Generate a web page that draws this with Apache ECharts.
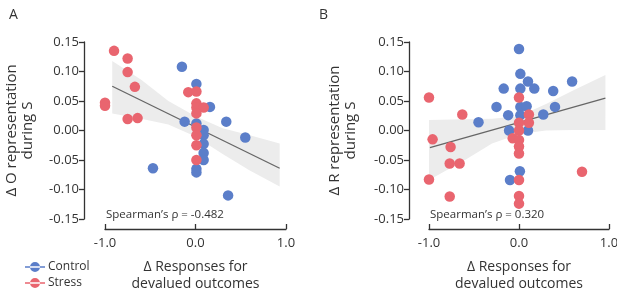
<!DOCTYPE html>
<html>
<head>
<meta charset="utf-8">
<script src="https://cdn.jsdelivr.net/npm/echarts@6/dist/echarts.min.js"></script>
<style>
  body { margin: 0; background: #fff; }
  #chart { width: 617px; height: 290px; }
</style>
</head>
<body>
<div id="chart"></div>
<script>
// panel A: delta O representation
let controlA = [[-0.15,0.108],[0.01,0.079],[0.16,0.040],[-0.12,0.015],[0.01,0.012],[0.09,0.001],[0.34,0.015],[0.55,-0.012],
    [0.09,-0.008],[0.09,-0.023],[0.09,-0.038],[0.09,-0.05],[0.01,-0.065],[0.01,-0.071],[-0.47,-0.064],[0.36,-0.11]];
let stressA = [[-0.90,0.135],[-0.75,0.122],[-0.75,0.099],[-0.67,0.074],[-1.0,0.047],[-1.0,0.042],[-0.75,0.0195],[-0.64,0.021],
    [-0.08,0.065],[0.01,0.066],[0.01,0.046],[0.01,0.039],[0.09,0.039],[0.01,0.029],[0.01,0.005],[0.01,-0.008],[0.01,-0.025],[0.01,-0.05]];
let fitA = [[-0.92,0.075],[0.93,-0.064]];
let bandXA = [-0.92, -0.6, -0.3, 0.0, 0.3, 0.6, 0.93];
let bandUpA = [0.118, 0.086, 0.050, 0.024, 0.004, -0.008, -0.022];
let bandLoA = [0.029, 0.020, 0.010, -0.010, -0.040, -0.068, -0.095];

// panel B: delta R representation
let controlB = [[0.0,0.138],[0.015,0.096],[0.10,0.083],[-0.17,0.071],[0.015,0.071],[0.17,0.071],[0.38,0.067],[0.59,0.083],
    [-0.25,0.040],[0.015,0.040],[0.085,0.041],[0.40,0.040],[-0.12,0.026],[0.015,0.026],[0.27,0.027],[-0.45,0.014],
    [-0.11,0.0],[0.10,0.0],[0.01,-0.069],[-0.10,-0.084]];
let stressB = [[-1.0,0.056],[-0.63,0.027],[0.0,0.056],[0.11,0.027],[0.11,0.013],[0.0,0.013],[0.0,0.0],[-0.07,-0.013],
    [0.0,-0.016],[0.0,-0.027],[0.0,-0.039],[-0.96,-0.015],[-0.76,-0.028],[-0.77,-0.056],[-0.66,-0.056],[-1.0,-0.083],
    [-0.77,-0.112],[0.70,-0.070],[0.0,-0.084],[0.0,-0.111],[0.0,-0.124]];
let fitB = [[-0.99,-0.029],[0.96,0.055]];
let bandXB = [-1.0, -0.6, -0.3, 0.0, 0.3, 0.6, 0.96];
let bandUpB = [0.018, 0.019, 0.020, 0.024, 0.045, 0.068, 0.094];
let bandLoB = [-0.084, -0.050, -0.022, -0.006, 0.000, 0.001, 0.001];

let rhoText = ["Spearman\u2019s \u03c1 = -0.482", "Spearman\u2019s \u03c1 = 0.320"];
let yNames = ["\u0394 O representation\nduring S", "\u0394 R representation\nduring S"];
let xName = "\u0394 Responses for\ndevalued outcomes";

let blue = '#5b7ec9';
let red = '#e9656f';
let textCol = '#333';
let font = 'Open Sans';

function bandSeries(idx, xs, up, lo) {
    return {
        type: 'custom',
        xAxisIndex: idx, yAxisIndex: idx,
        silent: true, z: 1,
        data: [0],
        renderItem: function (params, api) {
            let pts = [];
            for (let i = 0; i < xs.length; i++) pts.push(api.coord([xs[i], up[i]]));
            for (let i = xs.length - 1; i >= 0; i--) pts.push(api.coord([xs[i], lo[i]]));
            return { type: 'polygon', shape: { points: pts }, style: { fill: '#ececec' } };
        }
    };
}

function fitSeries(idx, pts) {
    return {
        type: 'line', xAxisIndex: idx, yAxisIndex: idx, data: pts, symbol: 'none', silent: true, z: 2,
        lineStyle: { color: '#666', width: 1.3 }
    };
}

function dots(idx, name, pts, col) {
    return {
        type: 'scatter', name: name, xAxisIndex: idx, yAxisIndex: idx, data: pts, symbolSize: 10.5, clip: false, z: 3,
        itemStyle: { color: col, opacity: 1 }
    };
}

function xAx(idx) {
    return {
        type: 'value', gridIndex: idx, min: -1, max: 1, interval: 1, offset: 10,
        splitLine: { show: false },
        axisLine: { show: true, onZero: false, lineStyle: { color: '#333', width: 1.3 } },
        axisTick: { show: true, inside: true, length: 5, lineStyle: { color: '#333', width: 1.3 } },
        axisLabel: { color: textCol, fontSize: 13, fontFamily: font, margin: 8,
            formatter: v => v.toFixed(1) },
        name: xName, nameLocation: 'middle', nameGap: 30,
        nameTextStyle: { color: textCol, fontSize: 14, fontFamily: font, lineHeight: 17 }
    };
}

function yAx(idx, off, gap) {
    return {
        type: 'value', gridIndex: idx, min: -0.15, max: 0.15, interval: 0.05, offset: off,
        splitLine: { show: false },
        axisLine: { show: true, onZero: false, lineStyle: { color: '#333', width: 1.3 } },
        axisTick: { show: true, length: 5, lineStyle: { color: '#333', width: 1.3 } },
        axisLabel: { color: textCol, fontSize: 13, fontFamily: font, margin: 5,
            formatter: v => v.toFixed(2) },
        name: yNames[idx], nameLocation: 'middle', nameGap: gap,
        nameTextStyle: { color: textCol, fontSize: 15, fontFamily: font, lineHeight: 16 }
    };
}

function legendFor(name, top) {
    return {
        data: [name], left: 20, top: top,
        itemWidth: 20, itemHeight: 10,
        icon: 'path://M0 4.3 h20 v1.4 h-20 z M10 0 a5 5 0 1 0 0.01 0 z',
        textStyle: { color: textCol, fontSize: 12, fontFamily: font, padding: [0, 0, 0, -2] }
    };
}

let chart = echarts.init(document.getElementById('chart'));
let option = {
    animation: false,
    backgroundColor: '#fff',
    grid: [
        { left: 105, top: 42, width: 181, height: 177, containLabel: false, outerBoundsMode: 'none' },
        { left: 429, top: 42, width: 180, height: 177, containLabel: false, outerBoundsMode: 'none' }
    ],
    xAxis: [xAx(0), xAx(1)],
    yAxis: [yAx(0, 21, 48), yAx(1, 20, 50)],
    legend: [legendFor('Control', 256), legendFor('Stress', 272)],
    title: [
        { text: 'A', left: 4, top: 3, textStyle: { color: textCol, fontSize: 14, fontWeight: 'normal', fontFamily: font } },
        { text: 'B', left: 314, top: 3, textStyle: { color: textCol, fontSize: 14, fontWeight: 'normal', fontFamily: font } }
    ],
    graphic: [
        { type: 'text', left: 106, top: 209, z: 10, style: { text: rhoText[0], fill: textCol, fontSize: 11.5, fontFamily: font } },
        { type: 'text', left: 430, top: 209, z: 10, style: { text: rhoText[1], fill: textCol, fontSize: 11.5, fontFamily: font } }
    ],
    series: [
        bandSeries(0, bandXA, bandUpA, bandLoA),
        fitSeries(0, fitA),
        dots(0, 'Control', controlA, blue),
        dots(0, 'Stress', stressA, red),
        bandSeries(1, bandXB, bandUpB, bandLoB),
        fitSeries(1, fitB),
        dots(1, 'Control', controlB, blue),
        dots(1, 'Stress', stressB, red)
    ]
};
chart.setOption(option);
</script>
</body>
</html>
